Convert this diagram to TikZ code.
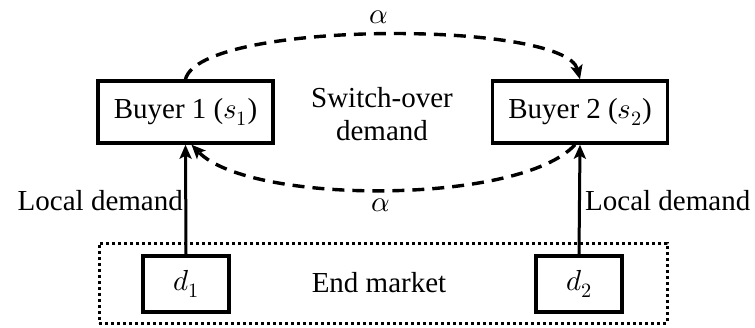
\documentclass[tikz,border=0pt]{standalone}
\usepackage{fontspec}
\usepackage{unicode-math}
\setmainfont{Liberation Serif}
\setmathfont{Latin Modern Math}
\newfontfamily\tnrfont{Liberation Serif}
\usetikzlibrary{arrows.meta}
\tikzset{
  bigtext/.style={font=\tnrfont\fontsize{29}{33}\selectfont},
  buyerbox/.style={draw, line width=3.4pt, minimum width=175pt, minimum height=62pt, inner sep=0pt, bigtext},
  dbox/.style={draw, line width=3.4pt, minimum width=86pt, minimum height=56pt, inner sep=0pt, bigtext},
  solidarrow/.style={line width=3pt, -{Stealth[length=14pt,width=12pt,inset=3pt]}},
  dasharrow/.style={line width=3.4pt, dash pattern=on 12pt off 8pt, -{Stealth[length=14pt,width=12pt,inset=3pt]}},
  dottedframe/.style={draw, line width=3pt, dash pattern=on 3pt off 3pt},
  txt/.style={bigtext, inner sep=0pt}
}
\begin{document}
\begin{tikzpicture}[x=1pt,y=-1pt]
\useasboundingbox (0,0) rectangle (755,327);
% end market frame
\node[dottedframe, minimum width=568pt, minimum height=80pt, inner sep=0pt] (market) at (383,283) {};
\node[txt] (endlbl) at (379,283) {End market};
% boxes
\node[buyerbox] (b1) at (185.5,112) {Buyer 1 ($\mathscr{s}_1$)};
\node[buyerbox] (b2) at (580,112) {Buyer 2 ($\mathscr{s}_2$)};
\node[dbox] (d1) at (186,284) {$d_1$};
\node[dbox] (d2) at (579,284) {$d_2$};
% local demand arrows
\draw[solidarrow] (d1.north) -- (b1.south);
\draw[solidarrow] (d2.north) -- (b2.south);
\node[txt, anchor=east] (ld1) at (183,201) {Local demand};
\node[txt, anchor=west] (ld2) at (585,201) {Local demand};
% switch-over
\node[txt, align=center] (sw) at (382,114) {Switch-over\\demand};
\draw[dasharrow] (b1.north) .. controls (200,20) and (565,20) .. (b2.north);
\draw[dasharrow] ([xshift=-5pt]b2.south) .. controls (520,205) and (250,205) .. ([xshift=6pt]b1.south);
\node[txt] (a1) at (379,17) {$\alpha$};
\node[txt] (a2) at (381,205) {$\alpha$};
\end{tikzpicture}
\end{document}
